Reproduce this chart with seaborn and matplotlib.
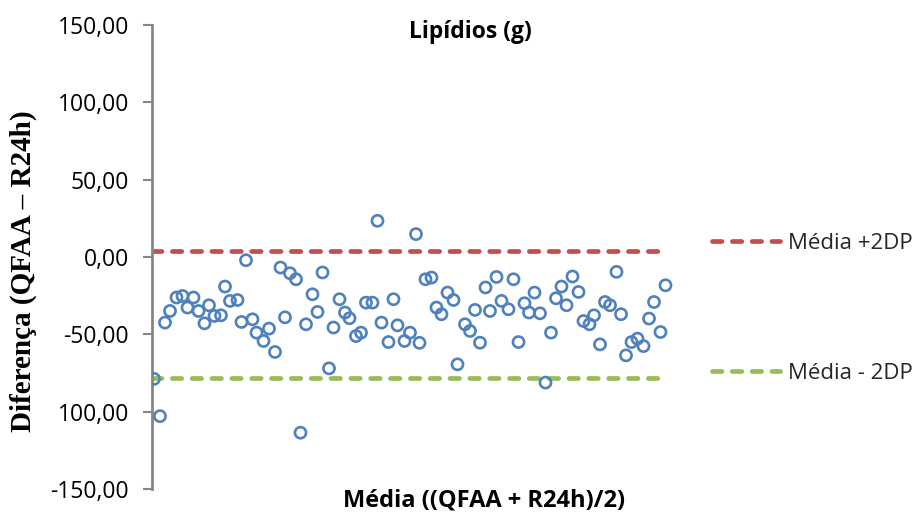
import matplotlib
matplotlib.use("Agg")
import matplotlib.pyplot as plt
from matplotlib.lines import Line2D
from matplotlib.ticker import FixedLocator, FixedFormatter
import seaborn as sns
import pandas as pd

# Mean of the two methods (x) and their difference QFAA - R24h (y), lipids in g
media = [20.4, 21.6, 22.6, 23.6, 24.9, 26.1, 27.1, 28.3, 29.3, 30.5,
         31.4, 32.5, 33.8, 34.6, 35.6, 37.1, 37.9, 38.8, 40.1, 40.9,
         42.3, 43.4, 44.6, 45.7, 46.6, 47.6, 48.8, 49.7, 50.8, 52.1,
         53.1, 54.1, 55.4, 56.3, 57.5, 58.6, 59.5, 60.8, 61.8, 62.8,
         64.1, 65.1, 65.9, 67.3, 68.3, 69.1, 70.5, 71.6, 72.8, 73.5,
         74.7, 75.9, 76.9, 77.9, 79.1, 80.3, 81.1, 82.6, 83.6, 84.6,
         85.6, 86.7, 87.6, 88.9, 89.9, 91.3, 92.3, 93.3, 94.5, 95.4,
         96.5, 97.6, 98.7, 99.8, 100.8, 101.9, 102.9, 104.1, 105.3, 106.3,
         107.5, 108.4, 109.6, 110.6, 111.6, 112.9, 113.8, 114.8, 115.9, 117.1,
         118.3, 119.4, 120.4, 121.7, 122.7]
diferenca = [-78.8, -102.9, -42.4, -34.9, -26.2, -25.2, -32.7, -26.2, -34.9, -42.9,
             -31.2, -38.1, -37.7, -19.1, -28.4, -27.8, -42.0, -2.1, -40.3, -48.9,
             -54.3, -46.3, -61.4, -6.8, -39.0, -10.5, -14.4, -113.6, -43.5, -24.1,
             -35.5, -10.0, -72.0, -45.6, -27.3, -35.9, -39.6, -51.1, -48.9, -29.5,
             -29.5, 23.4, -42.4, -55.0, -27.3, -44.2, -54.3, -48.9, 14.8, -55.5,
             -14.4, -13.3, -32.7, -37.0, -23.0, -27.8, -69.4, -43.5, -47.8, -34.2,
             -55.4, -19.7, -34.9, -12.9, -28.4, -33.8, -14.4, -55.0, -29.9, -35.9,
             -23.0, -36.4, -81.2, -48.9, -26.7, -19.1, -31.2, -12.6, -22.6, -41.4,
             -43.5, -37.7, -56.5, -29.1, -31.2, -9.6, -37.0, -63.6, -55.0, -52.8,
             -57.6, -39.8, -29.1, -48.5, -18.3]

# Limits of agreement
limite_superior = 3.9
limite_inferior = -78.5
limite_labels = ["Média +2DP", "Média - 2DP"]

y_ticks = [-150, -100, -50, 0, 50, 100, 150]
y_ticklabels = ["-150,00", "100,00", "-50,00", "0,00", "50,00", "100,00", "150,00"]

x_min_axis, x_max_axis = 20.0, 130.0

blue = "#4F81BD"
red = "#C0504D"
green = "#9BBB59"
grey = "#868686"

sns.set_theme(style="white")
plt.rcParams["font.family"] = ["Open Sans", "DejaVu Sans"]

fig = plt.figure(figsize=(9.18, 5.19), dpi=100)
ax = fig.add_axes([152 / 918, 1 - 489 / 519, 550 / 918, 464 / 519])

df = pd.DataFrame({"media": media, "diferenca": diferenca})

# Limit lines span from the axis start to the last observation
x_line = [x_min_axis, max(media)]
lines_df = pd.DataFrame({
    "x": x_line * 2,
    "y": [limite_superior] * 2 + [limite_inferior] * 2,
    "serie": [limite_labels[0]] * 2 + [limite_labels[1]] * 2,
})
dash = (0, (2.0, 2.2))
for lab, col in zip(limite_labels, [red, green]):
    sub = lines_df[lines_df["serie"] == lab]
    sns.lineplot(data=sub, x="x", y="y", ax=ax, color=col, linewidth=3.4,
                 linestyle=dash, dash_capstyle="round", legend=False, zorder=2)

sns.scatterplot(data=df, x="media", y="diferenca", ax=ax, marker="o", s=64,
                color=blue, edgecolor=blue, linewidth=1.9, legend=False, zorder=3)
ax.collections[-1].set_facecolor("none")

ax.set_xlim(x_min_axis, x_max_axis)
ax.set_ylim(-150, 150)
ax.set_xlabel("")
ax.set_ylabel("")
ax.set_xticks([])

ax.yaxis.set_major_locator(FixedLocator(y_ticks))
ax.yaxis.set_major_formatter(FixedFormatter(y_ticklabels))
ax.tick_params(axis="y", direction="out", length=6.5, width=1.5, color=grey,
               pad=10, labelsize=16.5, labelcolor="black", left=True)

for side in ["top", "right", "bottom"]:
    ax.spines[side].set_visible(False)
ax.spines["left"].set_color(grey)
ax.spines["left"].set_linewidth(2)

fig.text(470 / 918, 1 - 32 / 519, "Lipídios (g)", ha="center", va="center",
         fontsize=16.5, fontweight="bold", color="black")
fig.text(484 / 918, 1 - 500 / 519, "Média ((QFAA + R24h)/2)", ha="center",
         va="center", fontsize=17, fontweight="bold", color="black")
fig.text(23 / 918, 1 - 271 / 519, "Diferença (QFAA \u2013 R24h)", rotation=90,
         ha="center", va="center", fontsize=21, fontweight="bold",
         family=["Liberation Serif", "DejaVu Serif"], color="black")

handles = [Line2D([0], [0], color=red, linewidth=3.4, linestyle=dash,
                  dash_capstyle="round"),
           Line2D([0], [0], color=green, linewidth=3.4, linestyle=dash,
                  dash_capstyle="round")]
fig.legend(handles, limite_labels, loc="upper left",
           bbox_to_anchor=(712 / 918, 1 - 233 / 519), frameon=False,
           fontsize=16, handlelength=3.05, handletextpad=0.35, labelspacing=4.9,
           borderaxespad=0, borderpad=0)

fig.savefig("out.png", dpi=100, facecolor="white")
